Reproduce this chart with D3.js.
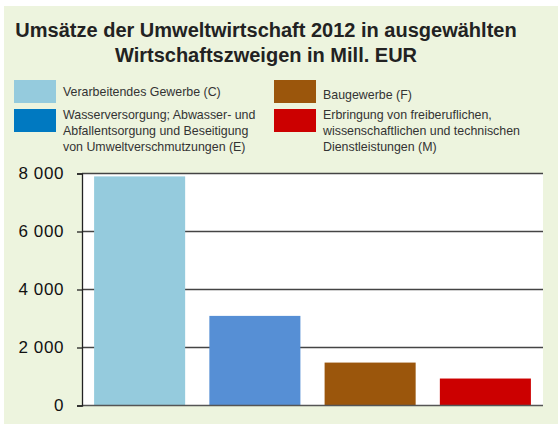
<!DOCTYPE html>
<html>
<head>
<meta charset="utf-8">
<script src="https://cdn.jsdelivr.net/npm/d3@7"></script>
<style>
  body { margin: 0; background: #fff; }
  svg { display: block; font-family: "Liberation Sans", Arial, sans-serif; }
</style>
</head>
<body>
<svg width="558" height="424"></svg>
<script>
// data
const categories = ["C", "E", "F", "M"];
const values = [7900, 3090, 1480, 930];
const barColors = ["#95cbdd", "#568fd5", "#9b560c", "#cc0000"];
const legendColors = ["#95cbdd", "#0079c1", "#9b560c", "#cc0000"];
const legendLabels = [
    ["Verarbeitendes Gewerbe (C)"],
    ["Wasserversorgung; Abwasser- und", "Abfallentsorgung und Beseitigung", "von Umweltverschmutzungen (E)"],
    ["Baugewerbe (F)"],
    ["Erbringung von freiberuflichen,", "wissenschaftlichen und technischen", "Dienstleistungen (M)"]
];
const yTicks = [0, 2000, 4000, 6000, 8000];
const titleLines = ["Umsätze der Umweltwirtschaft 2012 in ausgewählten", "Wirtschaftszweigen in Mill. EUR"];

var svg = d3.select("svg");

svg.append("rect")
    .attr("x", 4).attr("y", 6)
    .attr("width", 554).attr("height", 418)
    .attr("fill", "#edf4de");

// title
svg.append("text")
    .attr("y", 37)
    .attr("text-anchor", "middle")
    .attr("font-size", 20).attr("font-weight", "bold")
    .attr("fill", "#222")
    .selectAll("tspan")
    .data(titleLines)
    .enter()
    .append("tspan")
    .attr("x", 266)
    .attr("dy", (d, i) => i == 0 ? 0 : 25)
    .text(d => d);

// legend, two columns
var legendPos = [
    {x: 14, y: 80, ty: 96},
    {x: 14, y: 109, ty: 119},
    {x: 274, y: 80, ty: 99},
    {x: 274, y: 109, ty: 119}
];
var leg = svg.selectAll(".leg")
    .data(legendLabels)
    .enter()
    .append("g")
    .attr("class", "leg");
leg.append("rect")
    .attr("x", (d, i) => legendPos[i].x)
    .attr("y", (d, i) => legendPos[i].y)
    .attr("width", 42).attr("height", 23)
    .attr("fill", (d, i) => legendColors[i]);
leg.append("text")
    .attr("font-size", 12.4)
    .attr("fill", "#333")
    .attr("y", (d, i) => legendPos[i].ty)
    .each(function(d, i) {
        d3.select(this).selectAll("tspan")
            .data(d)
            .enter()
            .append("tspan")
            .attr("x", legendPos[i].x + 49)
            .attr("dy", (t, j) => j == 0 ? 0 : 16)
            .text(t => t);
    });

// plot
var plotLeft = 82, plotRight = 543, plotTop = 173.5, plotBottom = 405.5;

svg.append("rect")
    .attr("x", plotLeft).attr("y", plotTop)
    .attr("width", plotRight - plotLeft).attr("height", plotBottom - plotTop)
    .attr("fill", "#fff");

var x = d3.scaleBand()
    .domain(categories)
    .range([plotLeft, plotRight])
    .paddingInner(0.21)
    .paddingOuter(0.105);

var y = d3.scaleLinear()
    .domain([0, 8000])
    .range([plotBottom, plotTop]);

svg.append("g")
    .selectAll("line")
    .data(yTicks.slice(1))
    .enter()
    .append("line")
    .attr("x1", plotLeft).attr("x2", plotRight)
    .attr("y1", d => y(d))
    .attr("y2", d => y(d))
    .attr("stroke", "#444")
    .attr("stroke-width", 1.3);

svg.append("g")
    .selectAll("rect")
    .data(values)
    .enter()
    .append("rect")
    .attr("x", (d, i) => x(categories[i]))
    .attr("y", d => y(d))
    .attr("width", x.bandwidth())
    .attr("height", d => plotBottom - y(d))
    .attr("fill", (d, i) => barColors[i]);

// bottom axis line
svg.append("line")
    .attr("x1", plotLeft).attr("x2", plotRight)
    .attr("y1", plotBottom).attr("y2", plotBottom)
    .attr("stroke", "#555")
    .attr("stroke-width", 1.5);

var yAxis = svg.append("g")
    .attr("transform", "translate(" + plotLeft + ",0)")
    .call(d3.axisLeft(y)
        .tickValues(yTicks)
        .tickSize(5)
        .tickPadding(13)
        .tickFormat(d => d3.format(",")(d).replace(",", " ")));
yAxis.select(".domain").attr("stroke", "#222").attr("stroke-width", 1.3);
yAxis.selectAll(".tick line").attr("stroke", "#222").attr("stroke-width", 1.3);
yAxis.selectAll("text")
    .attr("font-size", 17)
    .attr("letter-spacing", 0.6)
    .attr("font-family", "Liberation Sans, Arial, sans-serif")
    .attr("fill", "#111");
</script>
</body>
</html>
